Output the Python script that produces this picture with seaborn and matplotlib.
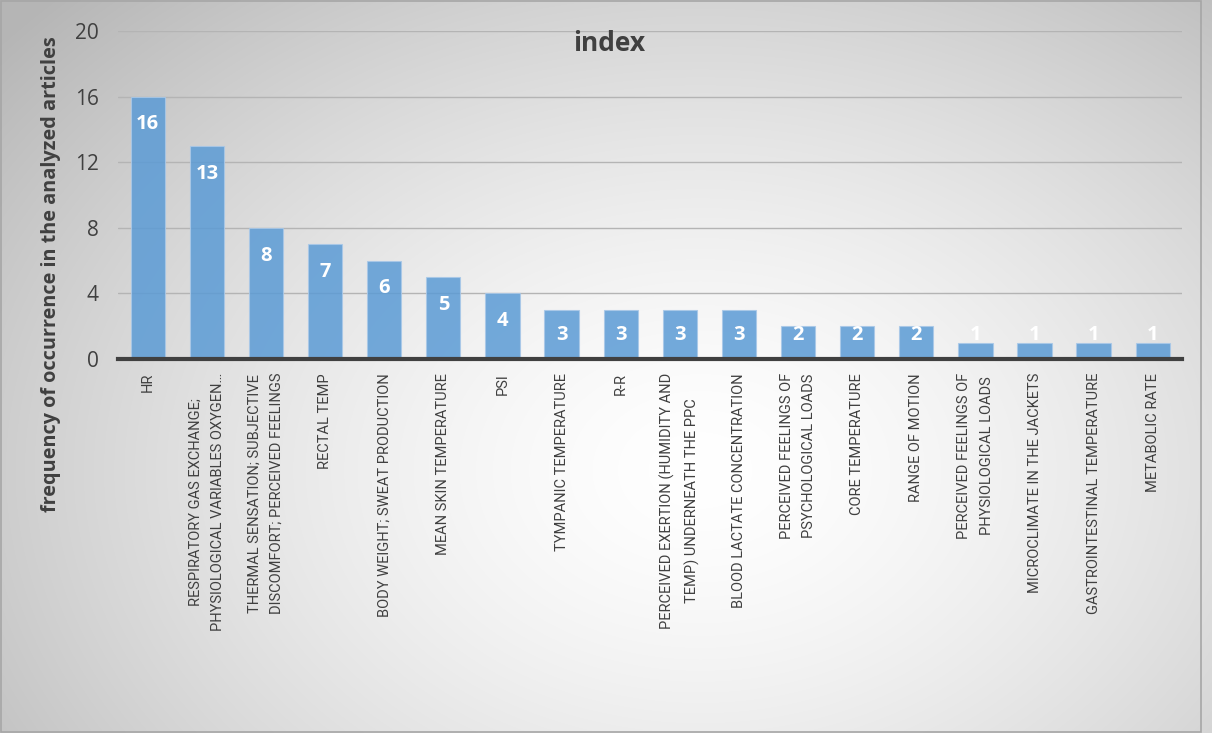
import numpy as np
import pandas as pd
import matplotlib
matplotlib.use("Agg")
import matplotlib.pyplot as plt
import seaborn as sns
from matplotlib.patches import Rectangle

categories = [
    "HR",
    "RESPIRATORY GAS EXCHANGE;\nPHYSIOLOGICAL VARIABLES OXYGEN…",
    "THERMAL SENSATION; SUBJECTIVE\nDISCOMFORT; PERCEIVED FEELINGS",
    "RECTAL TEMP",
    "BODY WEIGHT; SWEAT PRODUCTION",
    "MEAN SKIN TEMPERATURE",
    "PSI",
    "TYMPANIC TEMPERATURE",
    "R-R",
    "PERCEIVED EXERTION (HUMIDITY AND\nTEMP) UNDERNEATH THE PPC",
    "BLOOD LACTATE CONCENTRATION",
    "PERCEIVED FEELINGS OF\nPSYCHOLOGICAL LOADS",
    "CORE TEMPERATURE",
    "RANGE OF MOTION",
    "PERCEIVED FEELINGS OF\nPHYSIOLOGICAL LOADS",
    "MICROCLIMATE IN THE JACKETS",
    "GASTROINTESTINAL TEMPERATURE",
    "METABOLIC RATE",
]
values = [16, 13, 8, 7, 6, 5, 4, 3, 3, 3, 3, 2, 2, 2, 1, 1, 1, 1]
yticks = [0, 4, 8, 12, 16, 20]

df = pd.DataFrame({"category": categories, "value": values})

sns.set_theme(style="white")
plt.rcParams['font.family'] = ['Open Sans', 'DejaVu Sans']

fig = plt.figure(figsize=(12.12, 7.33), dpi=100)

# radial gradient background
bg = fig.add_axes([0, 0, 1, 1], zorder=-10)
h, w = 733, 1212
yy, xx = np.mgrid[0:h, 0:w]
cx, cy = 700, 470
d = np.sqrt(((xx - cx) / 760.0) ** 2 + ((yy - cy) / 560.0) ** 2)
d = np.clip(d, 0, 1.2)
shade = 1.0 - 0.22 * d ** 1.5
img = np.dstack([shade, shade, shade])
bg.imshow(img, aspect="auto", extent=[0, 1, 0, 1], interpolation="bilinear")
bg.set_axis_off()

ax = fig.add_axes([0.0975, 0.5102, 0.878, 0.4475])
ax.set_facecolor("none")

sns.barplot(data=df, x="category", y="value", color="#5b9bd5", alpha=0.85,
            width=0.58, ax=ax, saturation=1, edgecolor="#a9c8e8", linewidth=0.8)

ax.set_ylim(0, 20)
ax.set_yticks(yticks)
ax.set_yticklabels([str(t) for t in yticks], fontsize=15, color="#404040")
ax.yaxis.grid(True, color="#b4b4b4", linewidth=1.0)
ax.set_axisbelow(True)
ax.tick_params(axis="y", length=0, pad=14)
ax.tick_params(axis="x", length=0, pad=10)
ax.set_xticks(range(len(categories)))
ax.set_xticklabels(categories, rotation=90, fontsize=10.5, color="#404040",
                   va="top", ha="center", multialignment="center", linespacing=1.75,
                   family=["Roboto", "DejaVu Sans"])
ax.set_xlim(-0.5, len(categories) - 0.5)
for s in ["top", "right", "left"]:
    ax.spines[s].set_visible(False)
ax.spines["bottom"].set_color("#404040")
ax.spines["bottom"].set_linewidth(3)

ax.set_xlabel("")
ax.set_ylabel("frequency of occurrence in the analyzed articles", fontsize=14.3,
              fontweight="bold", color="#404040")
ax.yaxis.set_label_coords(-0.054, 0.26)

for i, v in enumerate(values):
    ax.text(i, max(v - 1.7, 1.46), str(v), ha="center", va="center", color="white",
            fontsize=14.5, fontweight="bold")

fig.text(0.503, 0.94, "index", ha="center", va="center", fontsize=19,
         fontweight="bold", color="#404040")

fig.patches.append(Rectangle((0.001, 0.001), 0.99, 0.998, transform=fig.transFigure,
                             fill=False, edgecolor="#a6a6a6", linewidth=1.2))

fig.savefig("out.png", dpi=100)
